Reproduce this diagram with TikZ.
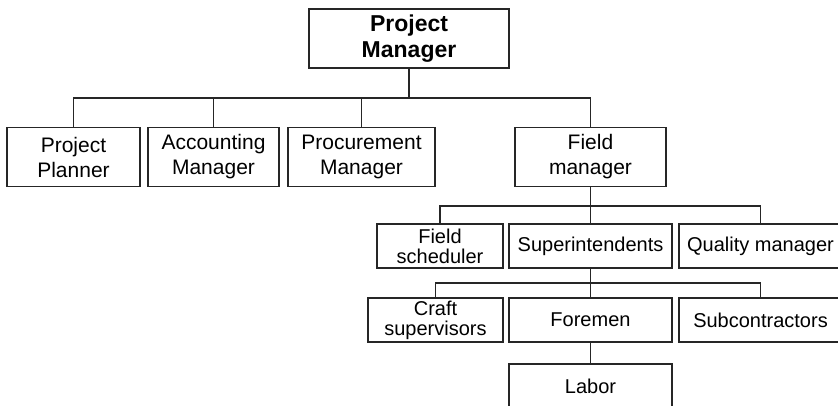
\documentclass[tikz,border=0pt]{standalone}
\usepackage{fontspec}
\setmainfont{Liberation Sans}
\usetikzlibrary{calc}
\newcommand{\orgLink}[3]{%%
  %% From a parent down to its bar, then across and down to the child.
  \draw[linkStyle] (#1.south) -- (#1.south |- #3) -| (#2.north);
}
\newcommand{\rowText}{\fontsize{21}{25}\selectfont}
\newcommand{\lowText}{\fontsize{20}{20}\selectfont}

\begin{document}
\begin{tikzpicture}[%%
  x=1pt,y=-1pt,%%
  boxStyle/.style={draw=black!85,line width=1.1pt,inner sep=0pt,align=center,minimum height=59},%%
  lowBoxStyle/.style={boxStyle,minimum height=44,font=\lowText},%%
  topBoxStyle/.style={boxStyle,font=\bfseries\fontsize{23}{26}\selectfont},%%
  linkStyle/.style={-,draw=black!85,line width=1.1pt},%%
  topLinkStyle/.style={-,draw=black!90,line width=1.6pt}%%
]
%%
%%
\useasboundingbox (0,0) rectangle (838,406);
\clip (0,0) rectangle (838,406);
%% The bars that join the levels.
\coordinate (barTop) at (0,98);
\coordinate (barField) at (0,206);
\coordinate (barSuper) at (0,283);
%% The project manager.
\node[topBoxStyle,minimum width=200] (manager) at (409,38.5) {Project\\Manager};
%% The first level.
\node[boxStyle,font=\rowText,minimum width=133] (planner) at (73.5,157) {Project\\Planner};
\node[boxStyle,font=\rowText,minimum width=131] (accounting) at (213.5,157) {Accounting\\Manager};
\node[boxStyle,font=\rowText,minimum width=147] (procurement) at (361.5,157) {Procurement\\Manager};
\node[boxStyle,font=\rowText,minimum width=151] (field) at (590.5,157) {Field\\manager};
%% Under the field manager.
\node[lowBoxStyle,minimum width=126] (scheduler) at (440,246) {Field\\scheduler};
\node[lowBoxStyle,minimum width=163] (super) at (590.5,246) {Superintendents};
\node[lowBoxStyle,minimum width=163] (quality) at (760.5,246) {Quality manager};
%% Under the superintendents.
\node[lowBoxStyle,minimum width=135] (craft) at (435.5,320) {Craft\\supervisors};
\node[lowBoxStyle,minimum width=163] (foremen) at (590.5,320) {Foremen};
\node[lowBoxStyle,minimum width=163] (subcon) at (760.5,320) {Subcontractors};
%% Under the foremen.
\node[lowBoxStyle,minimum width=163] (labor) at (590.5,386) {Labor};
%%
%%
%% The links.
\draw[topLinkStyle] (manager.south) -- (manager.south |- barTop);
\orgLink{manager}{planner}{barTop}
\orgLink{manager}{accounting}{barTop}
\orgLink{manager}{procurement}{barTop}
\orgLink{manager}{field}{barTop}
\orgLink{field}{scheduler}{barField}
\orgLink{field}{super}{barField}
\orgLink{field}{quality}{barField}
\orgLink{super}{craft}{barSuper}
\orgLink{super}{foremen}{barSuper}
\orgLink{super}{subcon}{barSuper}
\draw[linkStyle] (foremen.south) -- (labor.north);
\end{tikzpicture}
\end{document}
